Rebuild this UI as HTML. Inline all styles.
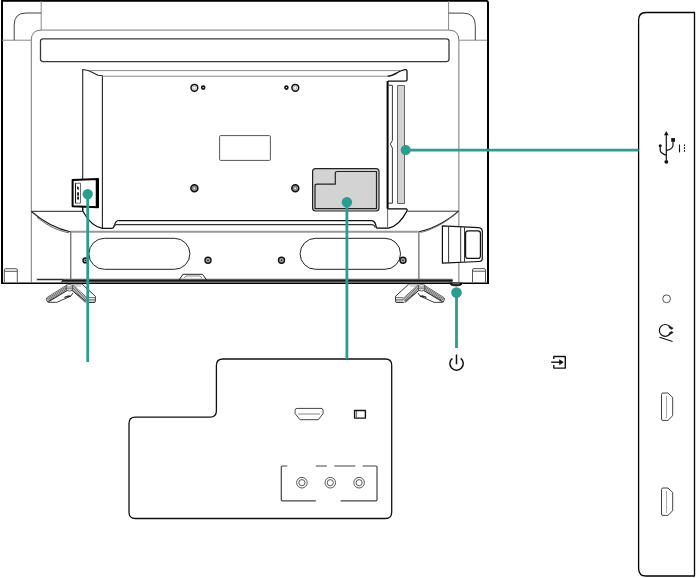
<!DOCTYPE html>
<html><head><meta charset="utf-8"><style>
html,body{margin:0;padding:0;background:#fff;width:696px;height:578px;overflow:hidden;font-family:"Liberation Sans",sans-serif}
svg{display:block}
</style></head><body>
<svg width="696" height="578" viewBox="0 0 696 578" fill="none" stroke-linecap="butt" stroke-linejoin="round">
<!-- ===== TV back ===== -->
<g id="tv">
<!-- outer frame -->
<path d="M2 283.2 V0.8 H486 Q488 0.8 488 3 V283.2" stroke="#000" stroke-width="2"/>
<path d="M1 283.2 H489" stroke="#000" stroke-width="1.6"/>
<!-- top-left corner details -->
<path d="M41.2 1 V30" stroke="#888" stroke-width="1"/>
<path d="M2 40.2 H31" stroke="#888" stroke-width="1"/>
<path d="M14.2 40.2 V25 Q14.2 13 26 13 H41" stroke="#444" stroke-width="1"/>
<!-- top-right corner details -->
<path d="M448.6 1 V30" stroke="#888" stroke-width="1"/>
<path d="M458.9 40.2 H487" stroke="#888" stroke-width="1"/>
<path d="M448.6 13.1 H463 Q475.3 13.1 475.3 25.5 V40.2" stroke="#444" stroke-width="1"/>
<!-- inner frame -->
<path d="M31.3 283 V40 Q31.3 30.1 41.2 30.1 H448.6 Q458.9 30.1 458.9 40.2 V283" stroke="#777" stroke-width="1"/>
<!-- long bar -->
<rect x="40.5" y="38.8" width="408.5" height="22.8" rx="2.5" stroke="#3a3a3a" stroke-width="1.3"/>
<!-- back plate top -->
<path d="M82.7 211.5 V69.5 L88 70.5 Q94 73 98 75.2 L102.4 75.8 V228" stroke="#222" stroke-width="1.1"/>
<path d="M89 70.6 H400" stroke="#888" stroke-width="1"/>
<path d="M102.4 76.2 H387.5" stroke="#888" stroke-width="1"/>
<!-- right clip -->
<path d="M387.5 76.2 C392 76 395 74 398 72.3 S403 70.2 405.5 69.6 Q407 69.6 407 71 V80 Q407 81 405 81.2 L388 81.2" stroke="#111" stroke-width="1.3"/>
<path d="M387.6 81 V208.8" stroke="#000" stroke-width="2"/>
<path d="M388 85.3 H392.4 V140.4 L390.3 144.2 L392.4 148 V203.2 H388" stroke="#333" stroke-width="1"/>
<rect x="397.5" y="85.5" width="7" height="118" fill="#d3d3d5" stroke="#666" stroke-width="1"/>
<path d="M387.6 208.8 H406 Q407.5 209 407 211 Q399 226 388.6 228.2 H377" stroke="#000" stroke-width="1.3"/>
<path d="M387.6 208.8 V228" stroke="#555" stroke-width="0.9"/>
<path d="M407.6 211.2 H458.5" stroke="#333" stroke-width="1"/>
<path d="M458.6 211.2 C452 217 436 228.5 418.9 231.7" stroke="#222" stroke-width="1.1"/>
<path d="M456.6 213.3 C450.5 218.5 435.5 229.6 420.5 232.5" stroke="#666" stroke-width="0.8"/>
<path d="M418.9 232 V281" stroke="#444" stroke-width="1"/>
<!-- left bottom of plate -->
<path d="M31.5 211.3 H82.7" stroke="#222" stroke-width="1"/>
<path d="M31.3 211.5 C40 219 52 228 71 232" stroke="#222" stroke-width="1.1"/>
<path d="M37 217.3 C44 222.5 53 229.8 69 232.8" stroke="#555" stroke-width="0.9"/>
<path d="M70.8 232 V281" stroke="#444" stroke-width="1"/>
<path d="M82.7 207 V210.8 C85 215 90 226 102.4 228.4 H112 Q113.8 228.2 114.5 225.5 Q115.5 220.5 119 220.5" stroke="#111" stroke-width="1.2"/>
<!-- plate bottom lines -->
<path d="M119 220.6 H372 Q374.5 221 375.5 224 Q376.5 228 377 228.2" stroke="#111" stroke-width="1.2"/>
<path d="M113.5 226.5 Q114.5 224.6 116.5 224.6 H372.3 Q374.5 224.8 375.5 227.5" stroke="#333" stroke-width="1.3"/>
<path d="M71 231.8 H418.9" stroke="#999" stroke-width="2"/>
<!-- pills -->
<rect x="88.9" y="238.3" width="101" height="31" rx="15.5" stroke="#222" stroke-width="1"/>
<rect x="300.1" y="238.3" width="100.4" height="31" rx="15.5" stroke="#222" stroke-width="1"/>
<!-- screws -->
<g stroke="#111" stroke-width="1.5" fill="#fff">
<circle cx="194.4" cy="87.8" r="3.4"/><circle cx="295.3" cy="87.8" r="3.4"/>
<circle cx="203.2" cy="87.6" r="1.5" stroke-width="1.6"/><circle cx="286.4" cy="87.6" r="1.5" stroke-width="1.6"/>
</g>
<g stroke="#999" stroke-width="0.8"><circle cx="194.4" cy="87.8" r="1.7"/><circle cx="295.3" cy="87.8" r="1.7"/></g>
<g stroke="#111" stroke-width="1.5" fill="#888">
<circle cx="194.4" cy="188.3" r="3.5"/><circle cx="295.3" cy="188.3" r="3.5"/>
</g>
<g stroke="#111" stroke-width="1.4" fill="#aaa">
<circle cx="85.4" cy="260.4" r="2.4"/><circle cx="208" cy="260.3" r="3"/>
<circle cx="281.5" cy="260.3" r="3"/><circle cx="403" cy="260.3" r="3"/>
</g>
<g fill="#fff"><circle cx="194.4" cy="188.3" r="0.9"/><circle cx="295.3" cy="188.3" r="0.9"/></g>
<g fill="#222"><circle cx="85.4" cy="260.4" r="0.7"/><circle cx="208" cy="260.3" r="0.9"/><circle cx="281.5" cy="260.3" r="0.9"/><circle cx="403" cy="260.3" r="0.9"/></g>
<!-- label rect -->
<rect x="219.6" y="135.6" width="50.8" height="24.8" rx="1" stroke="#555" stroke-width="1"/>
<!-- gray box -->
<rect x="312.6" y="168.6" width="66.4" height="42.4" rx="3" fill="#d3d3d3" stroke="#222" stroke-width="1.2"/>
<path d="M315 208.6 V186 Q315 184.2 317 184.2 H335.3 V173.3 Q335.3 171.5 337.3 171.5 H376.5 V208.6 Z" stroke="#222" stroke-width="1.2"/>
<!-- AV port box left -->
<path d="M72.6 180 L98 179 V207.3 L72.6 206.3 Z" fill="#fff" stroke="#000" stroke-width="2"/>
<path d="M96.5 180 V206.5" stroke="#000" stroke-width="1.5"/>
<rect x="75.5" y="183.3" width="5" height="19.9" stroke="#555" stroke-width="0.9"/>
<path d="M75.5 183.3 V203.2" stroke="#111" stroke-width="1.1"/>
<g fill="#222"><path d="M77 186.2 L78.8 187.3 V190 L77 189 Z"/><rect x="77.1" y="192.3" width="1.9" height="3.4"/><rect x="77.1" y="196.6" width="1.9" height="3"/></g>
<!-- side plug box -->
<path d="M442.4 225.9 L478.5 227.6 Q482.3 227.9 482.3 231.5 V258.5 Q482.3 261.5 479 261.5 L442.4 263.1 Z" fill="#fff" stroke="#111" stroke-width="1.2"/>
<path d="M448.6 226.5 V262.8 M460.7 227 V262 M464.5 227.2 V261.8" stroke="#333" stroke-width="1"/>
<rect x="465.6" y="230.8" width="14.8" height="27.6" rx="2.5" stroke="#111" stroke-width="1.2"/>
<!-- feet small rects -->
<path d="M4.3 282 V270 Q4.3 268.7 5.6 268.7 H16 Q17.3 268.7 17.3 270 V282 M4.3 271.3 H17.3" stroke="#555" stroke-width="1"/>
<path d="M472.5 282 V270 Q472.5 268.6 474 268.6 H484 Q485.5 268.6 485.5 270 V282 M472.5 271.2 H485.5" stroke="#555" stroke-width="1"/>
<!-- bottom bar -->
<path d="M36.5 280.3 L37.5 279 H64 V280.3 Z" fill="#222"/>
<path d="M60 282.4 L64 278.8 H452.6 V282.4 Z" fill="#5c5c5c"/>
<path d="M62 280.8 H452.6" stroke="#000" stroke-width="1.1"/>
<path d="M36.5 278.9 H64" stroke="#555" stroke-width="0.5"/>
<path d="M179 280 L183 274.3 H202.5 L206.7 280" stroke="#222" stroke-width="1"/>
<path d="M184 278 L186 276 H200 L202 278" stroke="#666" stroke-width="0.8"/>
<!-- power bump -->
<path d="M449 283 Q450.5 286 456 286 Q461.5 286 463 283 Z" fill="#111" stroke="#111" stroke-width="0.8"/>
<path d="M452.5 283.8 H459.5" stroke="#999" stroke-width="0.8"/>
</g>
<!-- stands -->
<g id="standL" stroke="#222" stroke-width="0.9">
<path d="M82.1 284.1 L95.4 296.3 V301.2 Q95.4 302.5 94 302.5 H87" fill="#fff"/>
<path d="M88 297.5 H95.2 M88 299.3 H95.2 M88 300.9 H95.2" stroke="#444" stroke-width="0.7"/>
<path d="M46.6 298 Q46.3 301.6 48.5 302.3 H56.9 L70.7 296.2 L73 293" fill="#fff"/>
<path d="M64.5 297.3 L68.5 295.7 L70.7 296.2 Z" fill="#111" stroke-width="0.8"/>
<path d="M67.00 284.90 L46.60 297.80 M67.61 285.87 L47.21 298.77 M68.23 286.84 L47.83 299.74 M68.84 287.82 L48.44 300.72 M69.46 288.79 L49.06 301.69" stroke="#333" stroke-width="0.75"/>
<path d="M72.60 284.60 L88.60 299.20 M71.82 285.45 L87.82 300.05 M71.05 286.30 L87.05 300.90 M70.27 287.15 L86.27 301.75 M69.50 288.00 L85.50 302.60" stroke="#333" stroke-width="0.75"/>
<path d="M68.5 289.8 L47.5 302" stroke="#222" stroke-width="0.8"/>
<path d="M71.5 290 L86.2 301.6" stroke="#222" stroke-width="0.8"/>
<path d="M66.2 284.5 H72.5 V290.5 H66.2 Z" fill="#fff" stroke="none"/>
<path d="M66.3 285.2 Q69.3 283.8 72.4 285.2 M66.3 287 H72.4 M66.3 288.8 H72.4 M66.5 290.4 Q69.4 291.6 72.2 290.4 M66.3 285 V290.5 M72.4 285 V290.5" stroke="#333" stroke-width="0.75"/>
<path d="M73 284.4 H82 M74 286 H81" stroke="#999" stroke-width="0.8"/>
</g>
<use href="#standL" transform="translate(490.9 0) scale(-1 1)"/>
<!-- ===== callout box ===== -->
<path d="M223 359 H385.5 Q391.7 359 391.7 365.2 V512.3 Q391.7 518.5 385.5 518.5 H135.3 Q129 518.5 129 512.3 V423.5 Q129 417.2 135.3 417.2 H210 Q216.4 417.2 216.4 410.8 V365.4 Q216.4 359 223 359 Z" stroke="#111" stroke-width="1.3"/>
<!-- HDMI -->
<path d="M297 408.4 H321 Q323.1 408.4 323.1 410.5 V413.5 L318.4 419.7 H300 L295.1 413.5 V410.5 Q295.1 408.4 297 408.4 Z" stroke="#444" stroke-width="1"/>
<path d="M298 414 H320" stroke="#888" stroke-width="1"/>
<rect x="354.6" y="410.5" width="10.8" height="7.6" stroke="#111" stroke-width="1.4"/>
<path d="M356.6 411 V417.6" stroke="#444" stroke-width="0.8"/>
<!-- AV bracket -->
<g stroke="#444" stroke-width="1.2">
<path d="M287.3 466 H282.3 Q281.3 466 281.3 467 V499.8 Q281.3 500.8 282.3 500.8 H315.8"/>
<path d="M315.8 466 H326.8 M334.3 466 H355.3 M362.7 466 H376 Q377 466 377 467 V499.8 Q377 500.8 376 500.8 H340.6"/>
</g>
<g stroke="#444" stroke-width="0.9">
<circle cx="301.9" cy="482.7" r="5.3"/><circle cx="301.9" cy="482.7" r="3.1"/>
<circle cx="330.3" cy="482.7" r="5.3"/><circle cx="330.3" cy="482.7" r="3.1"/>
<circle cx="359.1" cy="482.7" r="5.3"/><circle cx="359.1" cy="482.7" r="3.1"/>
</g>
<!-- power icon -->
<path d="M452.4 358.3 A6.7 6.7 0 1 0 460.7 358.3" stroke="#111" stroke-width="1.5"/>
<path d="M456.5 354.5 V364.3" stroke="#111" stroke-width="1.5"/>
<!-- input icon -->
<path d="M553.8 359 V356.5 H565.3 V368.1 H553.8 V365.1" stroke="#111" stroke-width="1.4"/>
<path d="M551.2 362.2 H561" stroke="#111" stroke-width="1.4"/>
<path d="M559.6 359.8 L563.2 362.2 L559.6 364.6 Z" fill="#111" stroke="#111" stroke-width="0.8"/>
<!-- ===== side panel ===== -->
<path d="M694.5 12.5 H646 Q638.6 12.5 638.6 20 V568.5 Q638.6 576 646 576 H694.5 Z" stroke="#000" stroke-width="1.3"/>
<!-- usb icon -->
<g stroke="#111" stroke-width="1.2">
<path d="M666.3 134 V160"/>
<path d="M666.3 155.2 Q661.2 153.8 660.2 150.5 V146.5"/>
<path d="M666.3 150.6 Q672 149.2 673 145.8 V141"/>
<path d="M679.5 144.5 V152.4" stroke-width="1.1"/>
<path d="M684.5 144.5 V152.4" stroke-dasharray="1.6 1.2" stroke-width="1.1"/>
</g>
<g fill="#111">
<path d="M666.3 131 L668.6 135.2 H664 Z"/>
<circle cx="660.2" cy="145.8" r="1.5"/>
<rect x="671.2" y="138.1" width="3.8" height="3.6"/>
<circle cx="666.3" cy="161.8" r="1.9"/>
</g>
<!-- small circle -->
<circle cx="666.6" cy="298.8" r="3.9" stroke="#444" stroke-width="0.9"/>
<!-- headphone -->
<path d="M669.8 326.6 A5.9 5.9 0 1 0 669.8 334.2" stroke="#111" stroke-width="1.2"/>
<path d="M669 325.8 L673.2 328.2 L671.6 329.3 L669.4 328 Z M669 335 L673.2 332.6 L671.6 331.5 L669.4 332.8 Z" fill="#111" stroke="#111" stroke-width="0.6"/>
<path d="M659.5 337.3 L672.6 341.5" stroke="#111" stroke-width="1.1"/>
<!-- side hdmi -->
<g stroke="#444" stroke-width="1">
<path d="M661.5 394.5 Q661.5 393 663 393 H667.9 L672.7 397.4 V415.7 L667.9 420.4 H663 Q661.5 420.4 661.5 419 Z"/>
<path d="M661.5 489.5 Q661.5 488 663 488 H667.9 L672.7 492.4 V510.7 L667.9 515.4 H663 Q661.5 515.4 661.5 514 Z"/>
</g>
<g stroke="#aaa" stroke-width="1">
<path d="M666.5 396 V418 M666.5 491 V513"/>
</g>
<!-- ===== teal callouts ===== -->
<g stroke="#2a9d8f" stroke-width="2.8" fill="#2a9d8f">
<path d="M87.7 194 V362" />
<path d="M346.9 202 V359"/>
<path d="M405.7 150.1 H638.6"/>
<path d="M456.5 292.6 V348"/>
</g>
<g fill="#2a9d8f">
<circle cx="87.7" cy="194.1" r="5.2"/>
<circle cx="346.9" cy="202.2" r="5.2"/>
<circle cx="405.7" cy="150.1" r="5"/>
<circle cx="456.5" cy="292.6" r="5.3"/>
</g>
</svg>
</body></html>
